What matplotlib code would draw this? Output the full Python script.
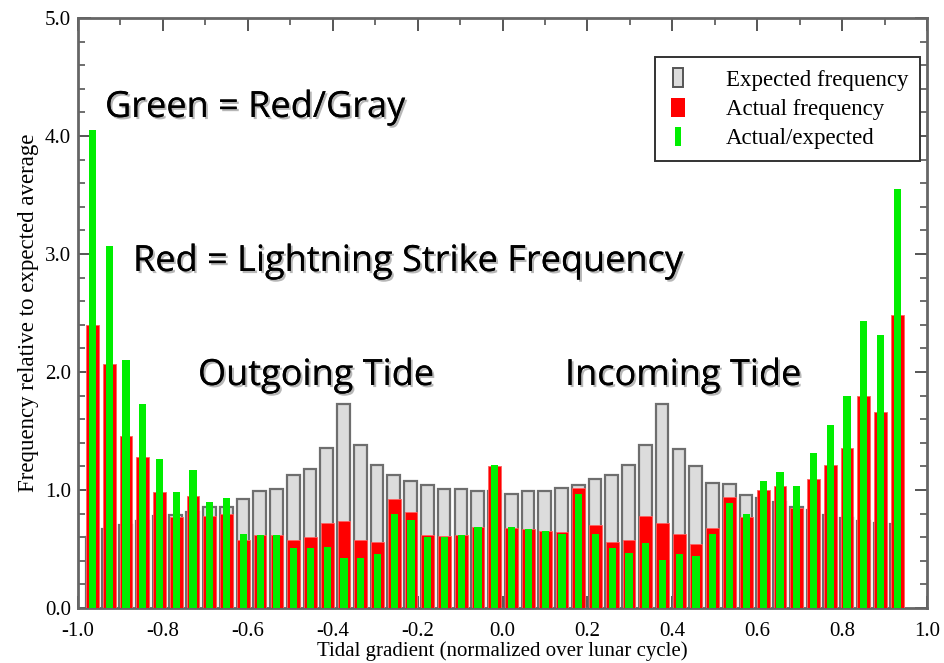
import numpy as np
import matplotlib
matplotlib.use("Agg")
import matplotlib.pyplot as plt
import matplotlib.patheffects as pe
from matplotlib.patches import Rectangle
from matplotlib.legend_handler import HandlerPatch
from matplotlib.ticker import MultipleLocator, FormatStrFormatter

# ---- data ----
bin_start = -0.966
bin_step = 0.0395
n_bins = 49

expected = [0.60, 0.67, 0.70, 0.74, 0.78, 0.79, 0.81, 0.86, 0.86, 0.92,
            0.99, 1.01, 1.13, 1.18, 1.36, 1.73, 1.38, 1.21, 1.13, 1.08,
            1.04, 1.01, 1.01, 0.99, 0.99, 0.97, 0.99, 0.99, 1.02, 1.04,
            1.09, 1.13, 1.21, 1.38, 1.73, 1.35, 1.20, 1.06, 1.05, 0.96,
            0.93, 0.90, 0.86, 0.83, 0.79, 0.76, 0.74, 0.72, 0.71]

actual = [2.40, 2.07, 1.46, 1.28, 0.98, 0.77, 0.95, 0.78, 0.80, 0.58,
          0.62, 0.62, 0.58, 0.60, 0.72, 0.74, 0.58, 0.56, 0.92, 0.81,
          0.62, 0.61, 0.62, 0.69, 1.20, 0.68, 0.67, 0.65, 0.64, 1.02,
          0.70, 0.56, 0.58, 0.78, 0.72, 0.63, 0.54, 0.68, 0.94, 0.77,
          1.00, 1.03, 0.85, 1.09, 1.21, 1.36, 1.80, 1.66, 2.48]

ratio = [4.05, 3.07, 2.10, 1.73, 1.26, 0.98, 1.17, 0.90, 0.93, 0.63,
         0.62, 0.62, 0.51, 0.51, 0.52, 0.42, 0.42, 0.46, 0.80, 0.75,
         0.60, 0.60, 0.62, 0.69, 1.21, 0.69, 0.67, 0.65, 0.63, 0.97,
         0.63, 0.51, 0.47, 0.55, 0.41, 0.46, 0.44, 0.63, 0.89, 0.80,
         1.08, 1.15, 1.03, 1.31, 1.55, 1.80, 2.43, 2.31, 3.55]

legend_labels = ["Expected frequency", "Actual frequency", "Actual/expected"]
annotations = ["Green = Red/Gray", "Red = Lightning Strike Frequency",
               "Outgoing Tide", "Incoming Tide"]
x_label = "Tidal gradient (normalized over lunar cycle)"
y_label = "Frequency relative to expected average"

centers = bin_start + bin_step * np.arange(n_bins)

# ---- figure ----
fig = plt.figure(figsize=(9.45, 6.63), dpi=100)
ax = fig.add_axes([78 / 945, 1 - 608 / 663, (927 - 78) / 945, (608 - 18) / 663])

serif = ["Liberation Serif", "DejaVu Serif"]

ax.bar(centers - 0.001, expected, width=0.030, color="#dcdcdc",
       edgecolor="#6e6e6e", linewidth=1.6, zorder=2)
ax.bar(centers, actual, width=0.030, color="#ff0000",
       edgecolor="#ff6060", linewidth=0.6, zorder=3)
ax.bar(centers, ratio, width=0.017, color="#00ee00",
       edgecolor="none", zorder=4)

ax.set_xlim(-1.0, 1.0)
ax.set_ylim(0.0, 5.0)
ax.xaxis.set_major_locator(MultipleLocator(0.2))
ax.xaxis.set_minor_locator(MultipleLocator(0.1))
ax.yaxis.set_major_locator(MultipleLocator(1.0))
ax.yaxis.set_minor_locator(MultipleLocator(0.2))
ax.xaxis.set_major_formatter(FormatStrFormatter("%.1f"))
ax.yaxis.set_major_formatter(FormatStrFormatter("%.1f"))
ax.tick_params(which="both", direction="in", top=True, right=True,
               color="#555555")
ax.tick_params(which="major", length=9, width=1.4, labelsize=15)
ax.tick_params(which="minor", length=5, width=1.2)
ax.tick_params(axis="x", which="major", pad=10)
ax.tick_params(axis="y", which="major", pad=5)
for lab in ax.get_xticklabels() + ax.get_yticklabels():
    lab.set_family(serif)
for sp in ax.spines.values():
    sp.set_color("#666666")
    sp.set_linewidth(2.0)

ax.set_xlabel(x_label, family=serif, fontsize=15, labelpad=0)
ax.set_ylabel(y_label, family=serif, fontsize=16.5, labelpad=4)


# ---- legend ----
class NarrowHandler(HandlerPatch):
    def __init__(self, frac, **kw):
        super().__init__(**kw)
        self.frac = frac

    def create_artists(self, legend, orig_handle, xdescent, ydescent,
                       width, height, fontsize, trans):
        w = width * self.frac
        x0 = -xdescent + (width - w) / 2
        p = Rectangle((x0, -ydescent), w, height,
                      facecolor=orig_handle.get_facecolor(),
                      edgecolor=orig_handle.get_edgecolor(),
                      linewidth=orig_handle.get_linewidth(),
                      transform=trans)
        return [p]


h_gray = Rectangle((0, 0), 1, 1, facecolor="#dcdcdc", edgecolor="#555555", linewidth=1.4)
h_red = Rectangle((0, 0), 1, 1, facecolor="#ff0000", edgecolor="none")
h_green = Rectangle((0, 0), 1, 1, facecolor="#00ee00", edgecolor="none")
leg = ax.legend([h_gray, h_red, h_green], legend_labels,
                loc="upper right", bbox_to_anchor=(0.992, 0.934),
                prop={"family": serif, "size": 16.5},
                handlelength=1.0, handleheight=0.9, handletextpad=1.6,
                labelspacing=0.3, borderpad=0.5, borderaxespad=0,
                fancybox=False, edgecolor="#333333", framealpha=1,
                handler_map={h_gray: NarrowHandler(0.45), h_red: NarrowHandler(0.6),
                             h_green: NarrowHandler(0.25)})
leg.get_frame().set_linewidth(1.4)
leg.set_zorder(10)

# ---- annotations ----
shadow = [pe.withSimplePatchShadow(offset=(1.5, -1.5), shadow_rgbFace="#888888", alpha=0.6),
          pe.Normal()]
ann_pos = [(105, 108), (133, 262), (198, 376), (565, 376)]
for txt, (px, py) in zip(annotations, ann_pos):
    fig.text(px / 945, 1 - py / 663, txt, fontsize=26, family=["Open Sans", "DejaVu Sans"],
             ha="left", va="center", color="black", path_effects=shadow, zorder=20)

fig.savefig("out.png", dpi=100)
